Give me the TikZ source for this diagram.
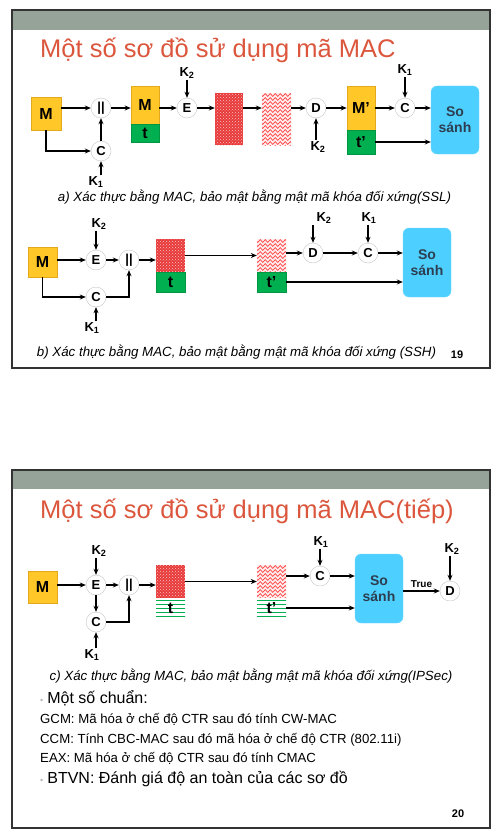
\documentclass[tikz,border=0pt]{standalone}
\usepackage{fontspec}
\setmainfont{Liberation Sans}
\usetikzlibrary{arrows.meta,patterns,decorations.pathmorphing,calc}

\definecolor{hdr}{RGB}{149,163,153}
\definecolor{ttl}{RGB}{219,86,60}
\definecolor{msgy}{RGB}{255,200,40}
\definecolor{msgyd}{RGB}{228,168,30}
\definecolor{tagg}{RGB}{0,176,80}
\definecolor{cmpb}{RGB}{77,207,255}
\definecolor{cmpt}{RGB}{45,62,80}
\definecolor{encr}{RGB}{232,58,58}

\begin{document}
\begin{tikzpicture}[x=1pt,y=-1pt,
  arr/.style={-{Stealth[length=6pt,width=5pt]}, line width=1.1pt},
  circ/.style={circle, draw=gray!45, fill=white, minimum size=20pt, inner sep=0pt,
    font=\fontsize{13}{13}\selectfont\bfseries},
  lab/.style={inner sep=1pt, font=\fontsize{13}{13}\selectfont\bfseries},
  msg/.style={rectangle, fill=msgy, draw=msgyd, line width=0.6pt, inner sep=0pt,
    font=\fontsize{16}{16}\selectfont\bfseries},
  tag/.style={rectangle, fill=tagg, draw=tagg!85!black, line width=0.4pt, inner sep=0pt,
    font=\fontsize{16}{16}\selectfont\bfseries},
  stripe/.style={rectangle, fill=white, inner sep=0pt,
    font=\fontsize{16}{16}\selectfont\bfseries,
    path picture={\foreach \k in {0,...,4}
      \draw[tagg, line width=0.9pt] ($(path picture bounding box.north west)+(-2,2+4*\k)$) -- ++(40,0);}},
  enc/.style={rectangle, fill=encr, inner sep=0pt,
    path picture={\fill[pattern=crosshatch dots, pattern color=white!70!encr]
      (path picture bounding box.south west) rectangle (path picture bounding box.north east);}},
  wave/.style={rectangle, fill=red!7, inner sep=0pt,
    path picture={\foreach \k in {0,...,14}
      \draw[red!75, line width=0.7pt, decorate, decoration={zigzag, segment length=5pt, amplitude=1.4pt}]
        ($(path picture bounding box.north west)+(-3,2+4*\k)$) -- ++(42,0);}},
  cmp/.style={rectangle, rounded corners=6pt, fill=cmpb, draw=cmpb!80!white, inner sep=0pt,
    minimum width=48pt, minimum height=68pt, align=center, text=cmpt,
    font=\fontsize{14}{16}\selectfont\bfseries},
  ttlfont/.style={text=ttl, inner sep=0pt, font=\fontsize{25.5}{26}\selectfont},
  capt/.style={inner sep=0pt, font=\fontsize{13.3}{15}\selectfont\itshape},
  body/.style={inner sep=0pt, font=\fontsize{13.2}{15}\selectfont},
  bigbody/.style={inner sep=0pt, font=\fontsize{16}{18}\selectfont},
  pgnum/.style={inner sep=0pt, font=\fontsize{11}{12}\selectfont\bfseries},
  frame/.style={draw=black!80, line width=1.4pt}
]
\useasboundingbox (0,0) rectangle (502,840);

% ---------- slide 19 ----------
\fill[hdr] (12,10) rectangle (490,30);
\draw[frame] (12,10) rectangle (490,368);
\node[ttlfont, anchor=base west] (title1) at (40,58) {Một số sơ đồ sử dụng mã MAC};

% scheme a
\node[msg, minimum width=30pt, minimum height=33pt] (ma) at (46,113.5) {M};
\node[circ] (cata) at (101,108) {||};
\node[circ] (ca) at (101,151) {C};
\node[lab] (k1a) at (96,182) {K\textsubscript{1}};
\node[msg, minimum width=28pt, minimum height=38pt] (mta) at (145,105) {M};
\node[tag, minimum width=28pt, minimum height=18pt] (tta) at (145,133) {t};
\node[circ] (ea) at (187,108) {E};
\node[lab] (k2a) at (187,73) {K\textsubscript{2}};
\node[enc, minimum width=28pt, minimum height=52pt] (xa) at (229,119) {};
\node[wave, minimum width=29pt, minimum height=52pt] (ya) at (276.5,119) {};
\node[circ] (da) at (316,108) {D};
\node[lab] (k2b) at (318,147) {K\textsubscript{2}};
\node[msg, minimum width=28pt, minimum height=44pt] (mpa) at (361,108) {M’};
\node[tag, minimum width=28pt, minimum height=24pt] (tpa) at (361,142) {t’};
\node[circ] (cva) at (405,108) {C};
\node[lab] (k1b) at (405,70) {K\textsubscript{1}};
\node[cmp] (ssa) at (455,120) {So\\sánh};

\draw[arr] (ma.east|-cata) -- (cata);
\draw[arr] (ma.south) |- (ca);
\draw[arr] (ca) -- (cata);
\draw[arr] (ca|-k1a.north) -- (ca);
\draw[arr] (cata) -- (mta.west|-cata);
\draw[arr] (mta.east|-ea) -- (ea);
\draw[arr] (ea|-k2a.south) -- (ea);
\draw[arr] (ea) -- (xa.west|-ea);
\draw[arr] (xa.east|-ea) -- (ya.west|-ea);
\draw[arr] (ya.east|-da) -- (da);
\draw[arr] (da|-k2b.north) -- (da);
\draw[arr] (da) -- (mpa.west|-da);
\draw[arr] (mpa.east|-cva) -- (cva);
\draw[arr] (cva|-k1b.south) -- (cva);
\draw[arr] (cva) -- (ssa.west|-cva);
\draw[arr] (tpa.east) -- (ssa.west|-tpa.east);

\node[capt, anchor=base] (capa) at (254.5,201) {a) Xác thực bằng MAC, bảo mật bằng mật mã khóa đối xứng(SSL)};

% scheme b
\node[msg, minimum width=29pt, minimum height=30pt] (mb) at (42.5,262) {M};
\node[circ] (eb) at (96,260) {E};
\node[lab] (k2c) at (99,224) {K\textsubscript{2}};
\node[circ] (catb) at (129,260) {||};
\node[circ] (cb) at (96,297) {C};
\node[lab] (k1c) at (92,328) {K\textsubscript{1}};
\node[enc, minimum width=29pt, minimum height=33pt] (xb) at (170.5,255.5) {};
\node[tag, minimum width=29pt, minimum height=20pt] (tb) at (170.5,282) {t};
\node[wave, minimum width=29pt, minimum height=33pt] (yb) at (271.5,255.5) {};
\node[tag, minimum width=29pt, minimum height=20pt] (tpb) at (271.5,282) {t’};
\node[circ] (db) at (313,253) {D};
\node[lab] (k2d) at (324,218) {K\textsubscript{2}};
\node[circ] (cvb) at (368,253) {C};
\node[lab] (k1d) at (369,218) {K\textsubscript{1}};
\node[cmp, minimum height=69pt] (ssb) at (427,262.5) {So\\sánh};

\draw[arr] (mb.east|-eb) -- (eb);
\draw[arr] (mb.south) |- (cb);
\draw[arr] (eb|-k2c.south) -- (eb);
\draw[arr] (eb) -- (catb);
\draw[arr] (cb) -| (catb);
\draw[arr] (cb|-k1c.north) -- (cb);
\draw[arr] (catb) -- (xb.west|-catb);
\draw[arr] (xb.east) -- (yb.west);
\draw[arr] (yb.east|-db) -- (db);
\draw[arr] (db|-k2d.south) -- (db);
\draw[arr] (db) -- (cvb);
\draw[arr] (cvb|-k1d.south) -- (cvb);
\draw[arr] (cvb) -- (ssb.west|-cvb);
\draw[arr] (tpb.east) -- (ssb.west|-tpb.east);

\node[capt, anchor=base] (capb) at (236.5,356) {b) Xác thực bằng MAC, bảo mật bằng mật mã khóa đối xứng (SSH)};
\node[pgnum, anchor=base] (pg19) at (457,358) {19};

% ---------- slide 20 ----------
\fill[hdr] (12,470) rectangle (490,489);
\draw[frame] (12,470) rectangle (490,828);
\node[ttlfont, anchor=base west] (title2) at (40,518) {Một số sơ đồ sử dụng mã MAC(tiếp)};

% scheme c
\node[msg, minimum width=29pt, minimum height=32pt] (mc) at (42.5,587) {M};
\node[circ] (ec) at (96,585) {E};
\node[lab] (k2e) at (99,551) {K\textsubscript{2}};
\node[circ] (catc) at (129,585) {||};
\node[circ] (cc) at (96,622) {C};
\node[lab] (k1e) at (92,655) {K\textsubscript{1}};
\node[enc, minimum width=29pt, minimum height=33pt] (xc) at (170.5,581.5) {};
\node[stripe, minimum width=29pt, minimum height=20pt] (tc) at (170.5,608) {t};
\node[wave, minimum width=29pt, minimum height=33pt] (yc) at (271.5,581.5) {};
\node[stripe, minimum width=29pt, minimum height=20pt] (tpc) at (271.5,608) {t’};
\node[circ] (cvc) at (320,576) {C};
\node[lab] (k1f) at (321,542) {K\textsubscript{1}};
\node[cmp, minimum height=69pt] (ssc) at (379,588.5) {So\\sánh};
\node[circ] (dc) at (450,591) {D};
\node[lab] (k2f) at (452,549) {K\textsubscript{2}};

\draw[arr] (mc.east|-ec) -- (ec);
\draw[arr] (ec|-k2e.south) -- (ec);
\draw[arr] (ec) -- (catc);
\draw[arr] (ec) -- (cc);
\draw[arr] (cc) -| (catc);
\draw[arr] (cc|-k1e.north) -- (cc);
\draw[arr] (catc) -- (xc.west|-catc);
\draw[arr] (xc.east) -- (yc.west);
\draw[arr] (yc.east|-cvc) -- (cvc);
\draw[arr] (cvc|-k1f.south) -- (cvc);
\draw[arr] (cvc) -- (ssc.west|-cvc);
\draw[arr] (tpc.east) -- (ssc.west|-tpc.east);
\draw[arr] (ssc.east|-dc) -- node[above, inner sep=3pt, font=\fontsize{10}{10}\selectfont\bfseries] (truelab) {True} (dc);
\draw[arr] (dc|-k2f.south) -- (dc);

\node[capt, anchor=base] (capc) at (251,680) {c) Xác thực bằng MAC, bảo mật bằng mật mã khóa đối xứng(IPSec)};

\node[bigbody, anchor=base west] (std) at (40,703) {\textcolor{gray!55}{\fontsize{9}{9}\selectfont •}\hspace{4pt}Một số chuẩn:};
\node[body, anchor=base west] (gcm) at (40,723) {GCM: Mã hóa ở chế độ CTR sau đó tính CW-MAC};
\node[body, anchor=base west] (ccm) at (40,743) {CCM: Tính CBC-MAC sau đó mã hóa ở chế độ CTR (802.11i)};
\node[body, anchor=base west] (eax) at (40,762) {EAX: Mã hóa ở chế độ CTR sau đó tính CMAC};
\node[bigbody, anchor=base west] (btvn) at (40,783) {\textcolor{gray!55}{\fontsize{9}{9}\selectfont •}\hspace{4pt}BTVN: Đánh giá độ an toàn của các sơ đồ};
\node[pgnum, anchor=base] (pg20) at (458,817) {20};
\end{tikzpicture}
\end{document}
